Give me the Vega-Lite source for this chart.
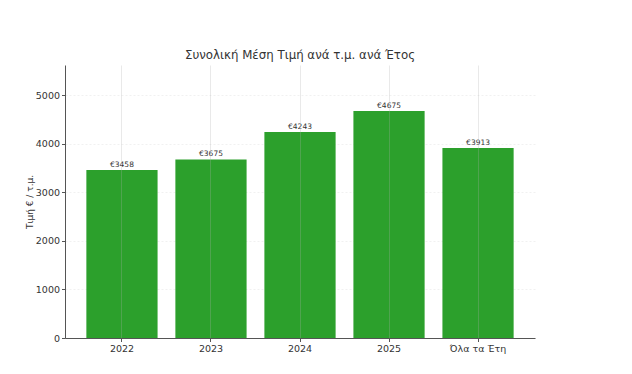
{
  "$schema": "https://vega.github.io/schema/vega-lite/v6.json",
  "autosize": "none",
  "padding": {"left": 65, "top": 65, "right": 97, "bottom": 36},
  "width": 470,
  "height": 273,
  "background": "white",
  "title": {"text": "Συνολική Μέση Τιμή ανά τ.μ. ανά Έτος", "font": "DejaVu Sans", "fontSize": 11.8, "fontWeight": "normal", "color": "#333333", "offset": 3, "anchor": "middle"},
  "config": {"view": {"stroke": null}, "font": "DejaVu Sans"},
  "data": {"values": [
    {"year": "2022", "price": 3458},
    {"year": "2023", "price": 3675},
    {"year": "2024", "price": 4243},
    {"year": "2025", "price": 4675},
    {"year": "Όλα τα Έτη", "price": 3913}
  ]},
  "transform": [{"calculate": "'€' + datum.price", "as": "label"}],
  "encoding": {
    "x": {"field": "year", "type": "nominal", "sort": null,
      "scale": {"paddingInner": 0.2, "paddingOuter": 0.24},
      "axis": {"title": null, "orient": "bottom", "labelAngle": 0, "labelFont": "DejaVu Sans", "labelFontSize": 9.5, "labelColor": "#333333", "domainColor": "#555555", "tickColor": "#555555", "tickSize": 3.5, "grid": true, "gridColor": "#b0b0b0", "gridOpacity": 0.35, "gridWidth": 0.8, "zindex": 1, "labelPadding": 2}},
    "y": {"field": "price", "type": "quantitative",
      "scale": {"domain": [0, 5620], "nice": false},
      "axis": {"title": "Τιμή € / τ.μ.", "format": "d", "titleFont": "DejaVu Sans", "titleFontSize": 9, "titleFontWeight": "normal", "titleColor": "#333333", "titlePadding": 1, "values": [0, 1000, 2000, 3000, 4000, 5000], "labelFont": "DejaVu Sans", "labelFontSize": 9.5, "labelColor": "#333333", "domainColor": "#555555", "tickColor": "#555555", "tickSize": 3.5, "grid": true, "gridColor": "#eeeeee", "gridDash": [2, 2], "gridWidth": 0.8, "labelPadding": 2}}
  },
  "layer": [
    {"mark": {"type": "bar", "color": "#2ca02c"}},
    {"mark": {"type": "text", "dy": -5, "fontSize": 7.5, "color": "#333333", "font": "DejaVu Sans"},
      "encoding": {"text": {"field": "label", "type": "nominal"}}}
  ]
}
